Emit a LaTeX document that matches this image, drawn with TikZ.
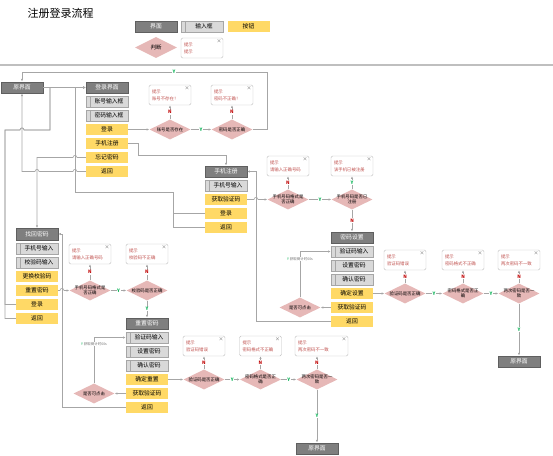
\documentclass[tikz,border=0pt]{standalone}
\usepackage{fontspec}
\setmainfont{Noto Sans CJK SC}
\usetikzlibrary{shapes.geometric,arrows.meta}
\definecolor{scrfill}{HTML}{7F7F7F}
\definecolor{scrdraw}{HTML}{5F5F5F}
\definecolor{infill}{HTML}{D9D9D9}
\definecolor{indraw}{HTML}{A6A6A6}
\definecolor{btnfill}{HTML}{FFD966}
\definecolor{decfill}{HTML}{E6B8B7}
\definecolor{tipred}{HTML}{C0504D}
\definecolor{tipdraw}{HTML}{BFBFBF}
\definecolor{wiregray}{HTML}{A6A6A6}
\definecolor{yesgreen}{HTML}{00B050}
\definecolor{nored}{HTML}{C00000}

\begin{document}
\begin{tikzpicture}[x=1pt, y=-1pt,
  screen/.style={draw=scrdraw, fill=scrfill, text=white, minimum width=42pt, minimum height=11.5pt, inner sep=0pt, font=\fontsize{5.8}{6}\selectfont},
  inbox/.style={draw=indraw, fill=infill, minimum width=42pt, minimum height=11.5pt, inner sep=0pt, font=\fontsize{5.8}{6}\selectfont, execute at begin node={\hspace{4pt}}, path picture={\draw[indraw] ([xshift=4pt]path picture bounding box.north west) -- ([xshift=4pt]path picture bounding box.south west);}},
  button/.style={fill=btnfill, minimum width=42pt, minimum height=11.5pt, inner sep=0pt, font=\fontsize{5.8}{6}\selectfont},
  decide/.style={diamond, fill=decfill, minimum width=41pt, minimum height=20pt, inner sep=0pt},
  dtext/.style={font=\fontsize{4.4}{5.2}\selectfont, align=center, inner sep=0pt},
  tipbox/.style={draw=tipdraw, fill=white, rounded corners=1.5pt, minimum width=42pt, minimum height=20pt, text width=36pt, inner sep=0pt, align=left, text=tipred, font=\fontsize{4.4}{7}\selectfont, label={[anchor=north east, inner sep=1.2pt, text=black!70, font=\fontsize{4}{4}\selectfont]north east:$\times$}},
  wire/.style={draw=wiregray, line width=0.6pt, -{Latex[length=2.6pt, width=2.2pt]}},
  ylab/.style={text=yesgreen, fill=white, inner sep=0.6pt, font=\bfseries\fontsize{4.6}{5}\selectfont},
  nlab/.style={text=nored, fill=white, inner sep=0.6pt, font=\bfseries\fontsize{4.6}{5}\selectfont},
  hint/.style={fill=white, inner sep=0.5pt, text=black!55, font=\fontsize{3.5}{4}\selectfont}
]
  \useasboundingbox (0,0) rectangle (553,455);

  \node[anchor=west, font=\fontsize{11}{12}\selectfont] (title) at (24,13) {注册登录流程};
  \draw[black!25, line width=1.2pt] (0,65) -- (553,65);

  \node[screen] (lgscreen) at (156,26.5) {界面};
  \node[inbox] (lginput) at (202,26.5) {输入框};
  \node[button] (lgbutton) at (248.5,26.5) {按钮};
  \node[decide, minimum width=42pt, minimum height=21pt, label={[dtext, font=\fontsize{5.5}{6}\selectfont]center:判断}] (lgdecide) at (156,47.5) {};
  \node[tipbox] (lgtip) at (202,48) {提示\\提示};

  \node[screen] (home) at (22,87.5) {原界面};
  \node[screen] (login) at (107,87.5) {登录界面};
  \node[inbox] (loginAcct) at (107,101.5) {账号输入框};
  \node[inbox] (loginPwd) at (107,115.5) {密码输入框};
  \node[button] (loginBtn) at (107,129.5) {登录};
  \node[button] (loginPhone) at (107,143.5) {手机注册};
  \node[button] (loginForgot) at (107,157.5) {忘记密码};
  \node[button] (loginBack) at (107,171.5) {返回};

  \node[decide, label={[dtext]center:账号是否存在}] (chkAcct) at (170,129.5) {};
  \node[decide, label={[dtext]center:密码是否正确}] (chkPwd) at (232,129.5) {};
  \node[tipbox] (tipAcct) at (170,95) {提示\\账号不存在！};
  \node[tipbox] (tipPwd) at (232,95) {提示\\密码不正确！};

  \node[screen] (phone) at (226,171.5) {手机注册};
  \node[inbox] (phoneNum) at (226,185.5) {手机号输入};
  \node[button] (phoneCode) at (226,199.5) {获取验证码};
  \node[button] (phoneLogin) at (226,213.5) {登录};
  \node[button] (phoneBack) at (226,227.5) {返回};

  \node[decide, label={[dtext]center:{手机号码格式是\\否正确}}] (chkPhoneFmt) at (288,199.5) {};
  \node[decide, label={[dtext]center:{手机号码是否已\\注册}}] (chkPhoneReg) at (352,199.5) {};
  \node[tipbox] (tipPhoneFmt) at (288,166) {提示\\请输入正确号码};
  \node[tipbox] (tipPhoneReg) at (352,166) {提示\\该手机已被注册};

  \node[screen] (pwdSet) at (352,237.5) {密码设置};
  \node[inbox] (pwdSetCode) at (352,251.5) {验证码输入};
  \node[inbox] (pwdSetNew) at (352,265.5) {设置密码};
  \node[inbox] (pwdSetAgain) at (352,279.5) {确认密码};
  \node[button] (pwdSetOk) at (352,293.5) {确定设置};
  \node[button] (pwdSetGet) at (352,307.5) {获取验证码};
  \node[button] (pwdSetBack) at (352,321.5) {返回};
  \node[decide, label={[dtext]center:是否可点击}] (clickSet) at (300,307.5) {};

  \node[decide, label={[dtext]center:验证码是否正确}] (chkCodeSet) at (405,293.5) {};
  \node[decide, label={[dtext]center:{密码格式是否正\\确}}] (chkFmtSet) at (463,293.5) {};
  \node[decide, label={[dtext]center:{两次密码是否一\\致}}] (chkSameSet) at (519,293.5) {};
  \node[tipbox] (tipCodeSet) at (405,260) {提示\\验证码错误};
  \node[tipbox] (tipFmtSet) at (463,260) {提示\\密码格式不正确};
  \node[tipbox] (tipSameSet) at (519,260) {提示\\两次密码不一致};
  \node[screen] (homeR) at (519,361.5) {原界面};

  \node[screen] (forgot) at (37,234) {找回密码};
  \node[inbox] (fgPhone) at (37,248.5) {手机号输入};
  \node[inbox] (fgCode) at (37,262.5) {校验码输入};
  \node[button] (fgSwap) at (37,276.5) {更换校验码};
  \node[button] (fgReset) at (37,290.5) {重置密码};
  \node[button] (fgLogin) at (37,304.5) {登录};
  \node[button] (fgBack) at (37,318.5) {返回};

  \node[decide, label={[dtext]center:{手机号码格式是\\否正确}}] (chkFgPhone) at (90,290.5) {};
  \node[decide, label={[dtext]center:校验码是否正确}] (chkFgCode) at (147,290.5) {};
  \node[tipbox] (tipFgPhone) at (90,254) {提示\\请输入正确号码};
  \node[tipbox] (tipFgCode) at (147,254) {提示\\校验码不正确};

  \node[screen] (reset) at (147,323.5) {重置密码};
  \node[inbox] (rsCode) at (147,337.5) {验证码输入};
  \node[inbox] (rsNew) at (147,351.5) {设置密码};
  \node[inbox] (rsAgain) at (147,365.5) {确认密码};
  \node[button] (rsOk) at (147,379.5) {确定重置};
  \node[button] (rsGet) at (147,393.5) {获取验证码};
  \node[button] (rsBack) at (147,407.5) {返回};
  \node[decide, label={[dtext]center:是否可点击}] (clickRs) at (94,393.5) {};

  \node[decide, label={[dtext]center:验证码是否正确}] (chkCodeRs) at (204,379.5) {};
  \node[decide, label={[dtext]center:{密码格式是否正\\确}}] (chkFmtRs) at (260.5,379.5) {};
  \node[decide, label={[dtext]center:{两次密码是否一\\致}}] (chkSameRs) at (317,379.5) {};
  \node[tipbox] (tipCodeRs) at (204,346) {提示\\验证码错误};
  \node[tipbox] (tipFmtRs) at (260.5,346) {提示\\密码格式不正确};
  \node[tipbox, minimum width=53pt, text width=47pt] (tipSameRs) at (321.5,346) {提示\\两次密码不一致};
  \node[screen] (homeB) at (317,448.5) {原界面};

  \draw[wire] (home) -- (login);
  \draw[wire] (loginBtn) -- (chkAcct);
  \draw[wire] (chkAcct) -- node[ylab] {Y} (chkPwd);
  \draw[wire] (chkAcct) -- node[nlab] {N} (tipAcct);
  \draw[wire] (chkPwd) -- node[nlab] {N} (tipPwd);
  \draw[wire] (chkPwd.east) -| (267,72) -| node[ylab, pos=0.19] {Y} (home.north);

  \draw[wire] (loginBack.west) -- (77,171.5) .. controls (77,168.7) and (73,168.7) .. (73,171.5)
    -- (39,171.5) .. controls (39,168.7) and (35,168.7) .. (35,171.5) -| (home.south);
  \draw[wire] (loginForgot.west) -- (77,157.5) .. controls (77,154.7) and (73,154.7) .. (73,157.5) -| (forgot.north);
  \draw[wire] (loginPhone.east) -- (138,143.5) -- (138,155) -| (phone.north);
  \draw[wire] (phoneLogin.west) -| (173,192) -| (75,87.5) -- (login.west);
  \draw[wire] (phoneBack.west) -| (173,192) -| (75,87.5) -- (login.west);
  \draw[wire] (fgLogin.west) -| (5,130) -- (20,130) .. controls (20,127.2) and (24,127.2) .. (24,130) -| (50,87.5) -- (login.west);
  \draw[wire] (fgBack.west) -| (5,130) -- (20,130) .. controls (20,127.2) and (24,127.2) .. (24,130) -| (50,87.5) -- (login.west);

  \draw[wire] (phoneCode.east) -- (254,199.5) .. controls (254,196.7) and (258,196.7) .. (258,199.5) -- (chkPhoneFmt.west);
  \draw[wire] (chkPhoneFmt) -- node[nlab] {N} (tipPhoneFmt);
  \draw[wire] (chkPhoneFmt) -- node[ylab] {Y} (chkPhoneReg);
  \draw[wire] (chkPhoneReg) -- node[ylab] {Y} (tipPhoneReg);
  \draw[wire] (chkPhoneReg) -- node[nlab] {N} (pwdSet);

  \draw[wire] (pwdSetGet) -- (clickSet);
  \draw[wire] (clickSet.north) |- node[hint, pos=0.42] {\textcolor{yesgreen}{Y} 获取倒计时60s} (pwdSetCode.west);
  \draw[wire] (pwdSetBack.west) -| (256,171.5) -- (phone.east);
  \draw[wire] (pwdSetOk) -- (chkCodeSet);
  \draw[wire] (chkCodeSet) -- node[nlab] {N} (tipCodeSet);
  \draw[wire] (chkCodeSet) -- node[ylab] {Y} (chkFmtSet);
  \draw[wire] (chkFmtSet) -- node[nlab] {N} (tipFmtSet);
  \draw[wire] (chkFmtSet) -- node[ylab] {Y} (chkSameSet);
  \draw[wire] (chkSameSet) -- node[nlab] {N} (tipSameSet);
  \draw[wire] (chkSameSet) -- node[ylab] {Y} (homeR);

  \draw[wire] (fgReset.east) -- (60,290.5) .. controls (60,287.7) and (64,287.7) .. (64,290.5) -- (chkFgPhone.west);
  \draw[wire] (chkFgPhone) -- node[nlab] {N} (tipFgPhone);
  \draw[wire] (chkFgPhone) -- node[ylab] {Y} (chkFgCode);
  \draw[wire] (chkFgCode) -- node[nlab] {N} (tipFgCode);
  \draw[wire] (chkFgCode) -- node[ylab] {Y} (reset);

  \draw[wire] (rsGet) -- (clickRs);
  \draw[wire] (clickRs.north) |- node[hint, pos=0.43] {\textcolor{yesgreen}{Y} 获取倒计时60s} (rsCode.west);
  \draw[wire] (rsBack.west) -| (62,234) -- (forgot.east);
  \draw[wire] (rsOk) -- (chkCodeRs);
  \draw[wire] (chkCodeRs) -- node[nlab] {N} (tipCodeRs);
  \draw[wire] (chkCodeRs) -- node[ylab] {Y} (chkFmtRs);
  \draw[wire] (chkFmtRs) -- node[nlab] {N} (tipFmtRs);
  \draw[wire] (chkFmtRs) -- node[ylab] {Y} (chkSameRs);
  \draw[wire] (chkSameRs.north) -- node[nlab] {N} (chkSameRs.north |- tipSameRs.south);
  \draw[wire] (chkSameRs) -- node[ylab] {Y} (homeB);
\end{tikzpicture}
\end{document}
